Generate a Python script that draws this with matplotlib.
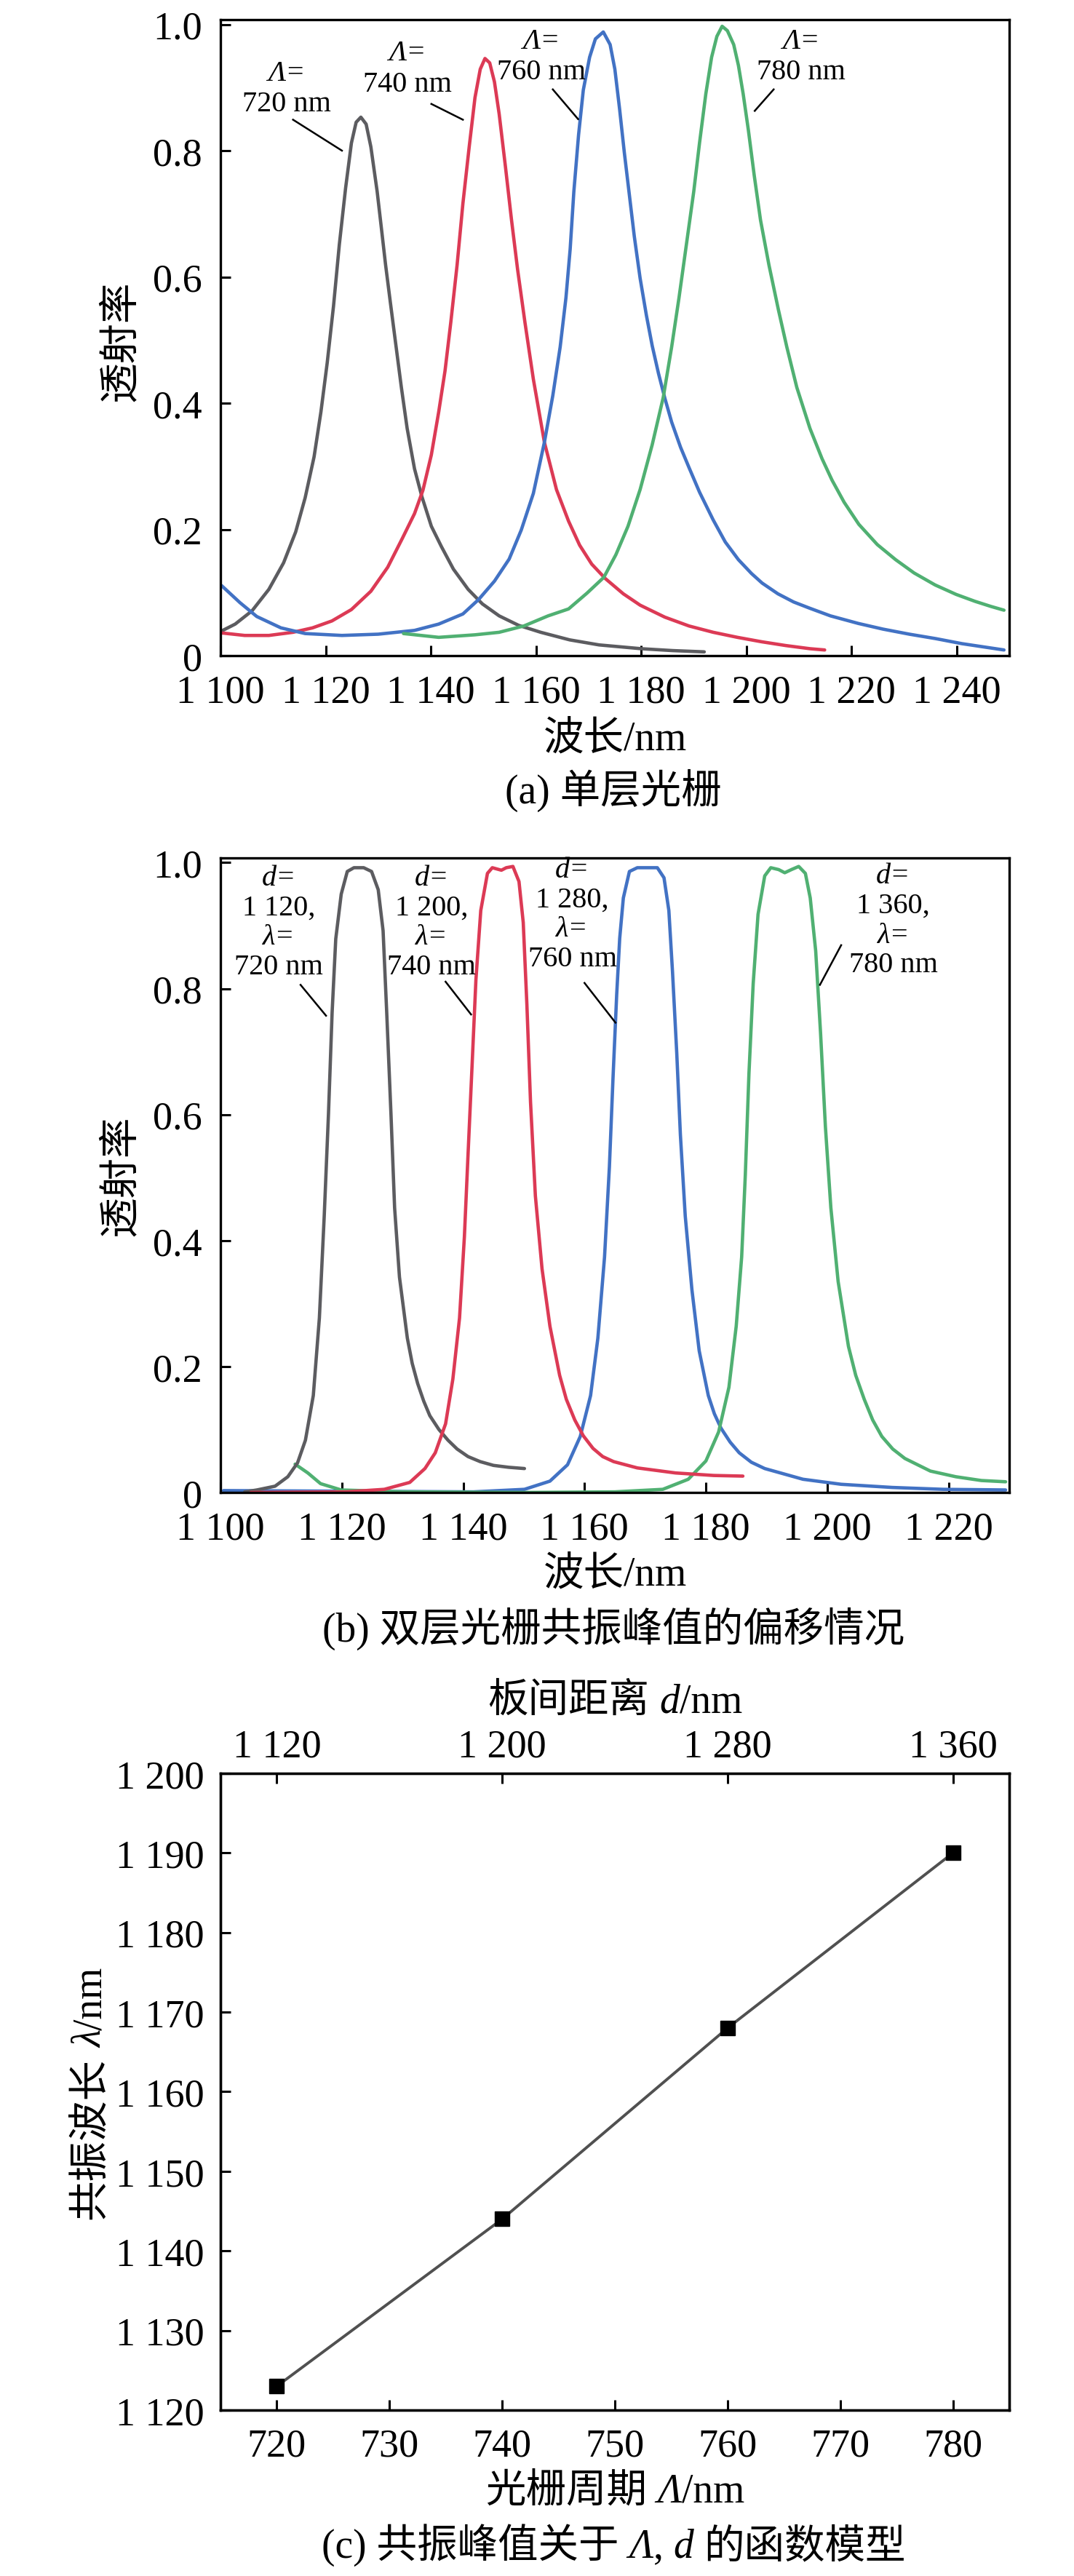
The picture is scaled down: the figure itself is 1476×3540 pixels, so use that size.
import matplotlib
matplotlib.use("Agg")
import matplotlib.pyplot as plt

plt.rcParams['font.family'] = ['Liberation Serif', 'Noto Sans CJK SC']
plt.rcParams['axes.unicode_minus'] = False

#--------------------------------------------------------------------------
# data
#--------------------------------------------------------------------------

# (a) single layer grating, wavelength in nm / transmittance
gray_a_x = [1100.2, 1102.8, 1106.0, 1109.2, 1112.0, 1114.3, 1116.1, 1117.8, 1119.1, 1120.3,
            1121.5, 1122.6, 1123.8, 1124.9, 1125.8, 1126.7, 1127.7, 1128.6, 1129.8, 1130.7,
            1131.4, 1132.3, 1133.2, 1134.4, 1135.5, 1136.9, 1138.3, 1140.1, 1142.0, 1144.3,
            1147.1, 1149.8, 1153.0, 1156.7, 1160.9, 1166.4, 1172.0, 1180.0, 1186.0, 1192.0]
gray_a_y = [0.039, 0.050, 0.071, 0.105, 0.147, 0.196, 0.250, 0.315, 0.386, 0.464,
            0.554, 0.651, 0.741, 0.812, 0.845, 0.853, 0.842, 0.806, 0.735, 0.670,
            0.619, 0.560, 0.502, 0.425, 0.360, 0.296, 0.252, 0.205, 0.173, 0.137,
            0.105, 0.082, 0.063, 0.048, 0.037, 0.025, 0.017, 0.011, 0.008, 0.006]

red_a_x = [1100.2, 1104.6, 1109.2, 1113.8, 1117.5, 1121.2, 1124.9, 1128.6, 1131.8, 1134.6,
           1136.9, 1138.5, 1140.1, 1141.5, 1142.7, 1143.8, 1145.0, 1146.1, 1147.3, 1148.4,
           1149.4, 1150.3, 1151.2, 1152.1, 1153.0, 1154.2, 1155.35, 1156.5, 1157.9, 1159.5,
           1161.6, 1163.9, 1166.2, 1168.3, 1170.6, 1173.2, 1176.6, 1179.8, 1184.5, 1189.1,
           1193.7, 1198.3, 1202.9, 1207.5, 1212.1, 1214.9]
red_a_y = [0.036, 0.032, 0.032, 0.037, 0.044, 0.055, 0.073, 0.102, 0.140, 0.186,
           0.225, 0.262, 0.318, 0.386, 0.451, 0.528, 0.619, 0.716, 0.806, 0.884,
           0.929, 0.946, 0.939, 0.909, 0.858, 0.774, 0.690, 0.612, 0.528, 0.438,
           0.338, 0.263, 0.213, 0.175, 0.145, 0.122, 0.098, 0.080, 0.061, 0.047,
           0.037, 0.029, 0.022, 0.016, 0.011, 0.009]

blue_a_x = [1100.2, 1103.7, 1106.9, 1111.5, 1116.1, 1123.1, 1130.0, 1136.9, 1141.5, 1146.1,
            1149.1, 1152.1, 1154.9, 1157.2, 1159.5, 1161.6, 1163.2, 1164.6, 1165.7, 1166.5,
            1167.2, 1168.1, 1169.0, 1170.2, 1171.3, 1172.8, 1174.1, 1175.0, 1175.9, 1176.8,
            1177.8, 1178.7, 1179.8, 1181.0, 1182.1, 1183.3, 1184.5, 1185.8, 1187.5, 1189.1,
            1191.1, 1193.7, 1196.0, 1198.5, 1201.0, 1203.0, 1206.0, 1209.0, 1212.1, 1216.0,
            1221.3, 1226.0, 1231.0, 1236.0, 1241.0, 1245.0, 1249.0]
blue_a_y = [0.111, 0.084, 0.062, 0.044, 0.035, 0.032, 0.034, 0.040, 0.050, 0.066,
            0.089, 0.118, 0.153, 0.199, 0.257, 0.338, 0.412, 0.489, 0.567, 0.644,
            0.735, 0.825, 0.896, 0.948, 0.977, 0.988, 0.968, 0.929, 0.866, 0.797,
            0.727, 0.664, 0.598, 0.539, 0.491, 0.447, 0.408, 0.370, 0.330, 0.298,
            0.259, 0.215, 0.180, 0.152, 0.130, 0.115, 0.098, 0.085, 0.075, 0.063,
            0.051, 0.042, 0.034, 0.027, 0.019, 0.014, 0.009]

green_a_x = [1134.8, 1141.5, 1148.4, 1153.0, 1157.7, 1162.3, 1166.2, 1169.7, 1172.9, 1175.2,
             1177.5, 1179.8, 1182.1, 1184.2, 1185.8, 1187.2, 1188.6, 1190.0, 1191.1, 1192.3,
             1193.4, 1194.4, 1195.4, 1196.4, 1197.6, 1198.5, 1199.4, 1200.4, 1201.5, 1202.7,
             1204.3, 1206.1, 1207.7, 1209.6, 1212.1, 1214.4, 1216.3, 1218.6, 1221.4, 1224.9,
             1228.4, 1231.9, 1235.9, 1239.9, 1243.5, 1246.5, 1249.0]
green_a_y = [0.035, 0.029, 0.033, 0.037, 0.047, 0.063, 0.074, 0.099, 0.124, 0.160,
             0.205, 0.263, 0.334, 0.409, 0.489, 0.567, 0.651, 0.735, 0.812, 0.890,
             0.948, 0.981, 0.997, 0.990, 0.968, 0.935, 0.890, 0.832, 0.761, 0.690,
             0.619, 0.548, 0.489, 0.425, 0.360, 0.312, 0.278, 0.243, 0.208, 0.176,
             0.152, 0.131, 0.112, 0.097, 0.086, 0.078, 0.072]

# (b) double layer grating
gray_b_x = [1104.0, 1106.0, 1109.0, 1111.1, 1112.7, 1114.0, 1115.3, 1116.3, 1117.1, 1117.8,
            1118.4, 1119.0, 1119.9, 1120.9, 1122.0, 1123.6, 1124.9, 1126.0, 1126.8, 1127.4,
            1128.1, 1128.7, 1129.5, 1130.8, 1131.6, 1132.5, 1133.5, 1134.5, 1136.0, 1137.5,
            1139.0, 1140.8, 1142.8, 1145.0, 1147.5, 1150.1]
gray_b_y = [0.001, 0.004, 0.010, 0.025, 0.047, 0.083, 0.154, 0.277, 0.439, 0.601,
            0.762, 0.879, 0.950, 0.986, 0.992, 0.992, 0.986, 0.957, 0.892, 0.762,
            0.601, 0.452, 0.342, 0.245, 0.205, 0.173, 0.145, 0.122, 0.100, 0.083,
            0.069, 0.057, 0.049, 0.043, 0.040, 0.038]

red_b_x = [1105.0, 1120.7, 1127.0, 1131.2, 1133.7, 1135.4, 1137.1, 1138.3, 1139.4, 1140.2,
           1140.8, 1141.5, 1142.1, 1142.9, 1144.0, 1144.8, 1146.3, 1147.1, 1148.2, 1149.2,
           1149.9, 1150.5, 1151.1, 1151.9, 1153.0, 1154.3, 1155.9, 1157.0, 1158.4, 1159.8,
           1161.4, 1163.0, 1164.8, 1168.7, 1175.0, 1181.3, 1186.1]
red_b_y = [0.000, 0.001, 0.005, 0.016, 0.038, 0.063, 0.109, 0.180, 0.277, 0.406,
           0.536, 0.685, 0.814, 0.924, 0.983, 0.992, 0.988, 0.992, 0.994, 0.970,
           0.905, 0.775, 0.620, 0.471, 0.355, 0.264, 0.186, 0.148, 0.115, 0.090,
           0.070, 0.057, 0.049, 0.039, 0.031, 0.027, 0.026]

blue_b_x = [1100.5, 1120.0, 1141.7, 1150.1, 1154.3, 1157.2, 1159.3, 1161.0, 1162.2, 1163.3,
            1164.1, 1164.7, 1165.3, 1165.8, 1166.4, 1167.4, 1168.7, 1170.3, 1172.0, 1173.1,
            1173.9, 1174.5, 1175.2, 1175.8, 1176.6, 1177.7, 1178.9, 1180.4, 1181.4, 1182.5,
            1184.0, 1185.5, 1187.5, 1189.7, 1196.0, 1202.3, 1210.7, 1219.1, 1229.4]
blue_b_y = [0.003, 0.002, 0.001, 0.005, 0.018, 0.044, 0.089, 0.154, 0.245, 0.374,
            0.517, 0.659, 0.790, 0.880, 0.944, 0.986, 0.992, 0.992, 0.992, 0.976,
            0.924, 0.827, 0.698, 0.568, 0.439, 0.322, 0.225, 0.154, 0.125, 0.102,
            0.080, 0.063, 0.048, 0.038, 0.021, 0.013, 0.008, 0.005, 0.004]

green_b_x = [1112.3, 1114.4, 1116.5, 1119.9, 1130.0, 1150.0, 1165.0, 1172.9, 1177.1, 1180.0,
             1182.1, 1183.8, 1185.0, 1185.9, 1186.5, 1187.1, 1187.8, 1188.6, 1189.7, 1190.7,
             1192.0, 1193.0, 1194.1, 1195.3, 1196.4, 1197.2, 1198.1, 1198.9, 1199.7, 1200.6,
             1201.8, 1203.5, 1204.7, 1206.1, 1207.5, 1209.0, 1210.8, 1212.8, 1217.0, 1221.2,
             1225.4, 1229.4]
green_b_y = [0.045, 0.031, 0.014, 0.004, 0.001, 0.000, 0.001, 0.005, 0.021, 0.050,
             0.096, 0.167, 0.264, 0.374, 0.504, 0.665, 0.808, 0.918, 0.979, 0.992,
             0.989, 0.984, 0.989, 0.994, 0.983, 0.944, 0.860, 0.730, 0.581, 0.452,
             0.335, 0.232, 0.186, 0.148, 0.115, 0.089, 0.069, 0.054, 0.034, 0.025,
             0.019, 0.017]

# (c) resonance model
period = [720, 740, 760, 780]          # grating period, nm
peak_wl = [1123, 1144, 1168, 1190]     # resonance wavelength, nm
gap_d = [1120, 1200, 1280, 1360]       # plate spacing, nm

# annotation texts
a_periods = ['720 nm', '740 nm', '760 nm', '780 nm']
b_gaps = ['1 120,', '1 200,', '1 280,', '1 360,']

xticks_a = [1100, 1120, 1140, 1160, 1180, 1200, 1220, 1240]
xticks_b = [1100, 1120, 1140, 1160, 1180, 1200, 1220]
yticks_t = [0, 0.2, 0.4, 0.6, 0.8, 1.0]
yticks_t_labels = ['0', '0.2', '0.4', '0.6', '0.8', '1.0']
xticks_c = [720, 730, 740, 750, 760, 770, 780]
yticks_c = [1120, 1130, 1140, 1150, 1160, 1170, 1180, 1190, 1200]

colors = ['#5c5c60', '#dc3a55', '#4272c4', '#50b072']

#--------------------------------------------------------------------------
# utils
#--------------------------------------------------------------------------

W, H = 1476, 3541
fig = plt.figure(figsize=(W / 100, H / 100), dpi=100)
renderer = fig.canvas.get_renderer()

TICK_FS = 39
LABEL_FS = 40
NOTE_FS = 29
CURVE_LW = 3.3


def fmt(v):
    s = str(int(v))
    return s[:-3] + ' ' + s[-3:] if len(s) > 3 else s


def axes_px(left, top, right, bottom):
    return fig.add_axes([left / W, 1 - bottom / H, (right - left) / W, (bottom - top) / H])


def style_axes(ax, pad_x=18, pad_y=18):
    for sp in ax.spines.values():
        sp.set_linewidth(2.4)
    ax.tick_params(direction='in', length=10, width=2.2, labelsize=TICK_FS,
                   top=False, right=False)
    ax.tick_params(axis='x', pad=pad_x)
    ax.tick_params(axis='y', pad=pad_y)


def mixed_text(xc, base, parts, size, rotation=0):
    # parts: (text, italic); pieces share one baseline, centred on xc (or on base when rotated)
    em = size * 100 / 72.0
    arts, lens = [], []
    for s, it in parts:
        if s.strip() == '':
            arts.append(None)
            lens.append(0.25 * em * len(s))
            continue
        t = fig.text(0, 0, s, fontsize=size, fontstyle='italic' if it else 'normal',
                     rotation=rotation, rotation_mode='anchor', ha='left', va='baseline')
        bb = t.get_window_extent(renderer)
        arts.append(t)
        lens.append(bb.height if rotation else bb.width)
    pos = -sum(lens) / 2.0
    for t, l in zip(arts, lens):
        if t is not None:
            if rotation:
                t.set_position((base / W, 1 - (xc - pos) / H))
            else:
                t.set_position(((xc + pos) / W, 1 - base / H))
        pos += l


#--------------------------------------------------------------------------
# (a)
#--------------------------------------------------------------------------

ax = axes_px(303, 28, 1387, 902)
for (xs, ys), c in zip([(gray_a_x, gray_a_y), (red_a_x, red_a_y),
                        (blue_a_x, blue_a_y), (green_a_x, green_a_y)], colors):
    ax.plot(xs, ys, color=c, lw=CURVE_LW, solid_capstyle='round', solid_joinstyle='round')
ax.set_xlim(1100, 1250)
ax.set_ylim(0, 1.0075)
ax.set_xticks(xticks_a, [fmt(v) for v in xticks_a])
ax.set_yticks(yticks_t, yticks_t_labels)
style_axes(ax)

a_text_x = [1112.6, 1135.5, 1161.0, 1210.4]
a_text_y = [0.874, 0.906, 0.925, 0.925]
a_lead = [((1113.8, 1123.1), (0.849, 0.800)), ((1140.1, 1146.1), (0.874, 0.849)),
          ((1163.2, 1168.0), (0.897, 0.850)), ((1205.2, 1201.6), (0.897, 0.863))]
for lab, tx, ty, (lx, ly) in zip(a_periods, a_text_x, a_text_y, a_lead):
    ax.text(tx, ty + 0.049, 'Λ=', fontsize=NOTE_FS, fontstyle='italic', ha='center', va='center')
    ax.text(tx, ty, lab, fontsize=NOTE_FS, ha='center', va='center')
    ax.plot(lx, ly, color='black', lw=1.8)

fig.text(167 / W, 1 - 469 / H, '透射率', fontsize=LABEL_FS, rotation=90, ha='center', va='center')
fig.text(845 / W, 1 - 1031 / H, '波长/nm', fontsize=LABEL_FS, ha='center', va='baseline')
fig.text(843 / W, 1 - 1104 / H, '(a) 单层光栅', fontsize=LABEL_FS, ha='center', va='baseline')

#--------------------------------------------------------------------------
# (b)
#--------------------------------------------------------------------------

ax = axes_px(303, 1180, 1387, 2052)
for (xs, ys), c in zip([(blue_b_x, blue_b_y), (green_b_x, green_b_y),
                        (gray_b_x, gray_b_y), (red_b_x, red_b_y)],
                       [colors[2], colors[3], colors[0], colors[1]]):
    ax.plot(xs, ys, color=c, lw=CURVE_LW, solid_capstyle='round', solid_joinstyle='round')
ax.set_xlim(1100, 1230)
ax.set_ylim(0, 1.0075)
ax.set_xticks(xticks_b, [fmt(v) for v in xticks_b])
ax.set_yticks(yticks_t, yticks_t_labels)
style_axes(ax)

b_text_x = [1109.6, 1134.8, 1158.0, 1210.9]
b_text_top = [0.976, 0.976, 0.989, 0.979]
b_lead = [((1113.2, 1117.4), (0.806, 0.757)), ((1137.1, 1141.3), (0.811, 0.759)),
          ((1160.0, 1165.1), (0.809, 0.746)), ((1202.3, 1198.8), (0.869, 0.806))]
step = 0.047
for g, lab, tx, ty, (lx, ly) in zip(b_gaps, a_periods, b_text_x, b_text_top, b_lead):
    ax.text(tx, ty, 'd=', fontsize=NOTE_FS, fontstyle='italic', ha='center', va='center')
    ax.text(tx, ty - step, g, fontsize=NOTE_FS, ha='center', va='center')
    ax.text(tx, ty - 2 * step, 'λ=', fontsize=NOTE_FS, fontstyle='italic', ha='center', va='center')
    ax.text(tx, ty - 3 * step, lab, fontsize=NOTE_FS, ha='center', va='center')
    ax.plot(lx, ly, color='black', lw=1.8)

fig.text(167 / W, 1 - 1616 / H, '透射率', fontsize=LABEL_FS, rotation=90, ha='center', va='center')
fig.text(845 / W, 1 - 2179 / H, '波长/nm', fontsize=LABEL_FS, ha='center', va='baseline')
fig.text(843 / W, 1 - 2256 / H, '(b) 双层光栅共振峰值的偏移情况', fontsize=LABEL_FS,
         ha='center', va='baseline')

#--------------------------------------------------------------------------
# (c)
#--------------------------------------------------------------------------

ax = axes_px(303, 2438, 1387, 3313)
ax.plot(period, peak_wl, color='#505050', lw=2.8, marker='s', ms=14,
        mfc='black', mec='black')
ax.set_xlim(715, 785)
ax.set_ylim(1120, 1200)
ax.set_xticks(xticks_c, [str(v) for v in xticks_c])
ax.set_yticks(yticks_c, [fmt(v) for v in yticks_c])
style_axes(ax, pad_x=17, pad_y=16)

ax_top = ax.twiny()
ax_top.set_xlim(ax.get_xlim())
ax_top.set_xticks(period, [fmt(v) for v in gap_d])
ax_top.tick_params(direction='in', length=10, width=2.2, labelsize=TICK_FS, pad=8,
                   top=True, bottom=False, labeltop=True, labelbottom=False)
for sp in ax_top.spines.values():
    sp.set_linewidth(2.4)

mixed_text(845, 2353, [('板间距离', False), (' ', False), ('d', True), ('/nm', False)], LABEL_FS)
mixed_text(845, 3439, [('光栅周期', False), (' ', False), ('Λ', True), ('/nm', False)], LABEL_FS)
mixed_text(2877, 139, [('共振波长', False), (' ', False), ('λ', True), ('/nm', False)],
           LABEL_FS, rotation=90)
mixed_text(843, 3515, [('(c) 共振峰值关于', False), (' ', False), ('Λ', True), (',', False),
                       (' ', False), ('d', True), (' ', False), ('的函数模型', False)], LABEL_FS)

fig.savefig('out.png', dpi=100)
